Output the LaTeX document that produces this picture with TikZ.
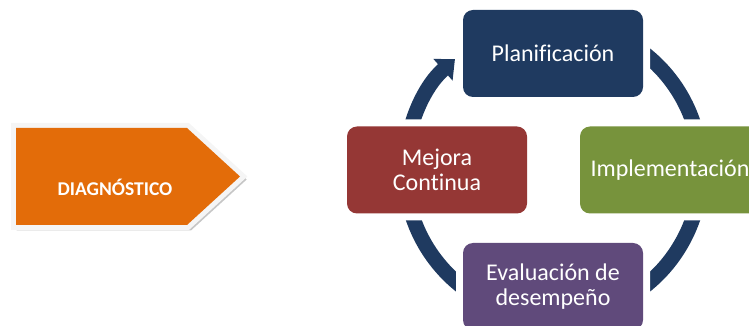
\documentclass[tikz,border=0pt]{standalone}
\usepackage{fontspec}
\setmainfont[Ligatures=NoCommon]{Carlito}
\usetikzlibrary{arrows.meta}
\definecolor{azulciclo}{HTML}{1F3A60}
\definecolor{rojomejora}{HTML}{953735}
\definecolor{verdeimpl}{HTML}{77933C}
\definecolor{moradoeval}{HTML}{604A7B}
\definecolor{naranjadiag}{HTML}{E36C09}
\tikzset{
    etapa/.style={rounded corners=10pt, minimum width=180pt, minimum height=87pt,
        inner sep=0pt, align=center, text=white, font=\fontsize{24}{25}\selectfont,
        preaction={draw=white, line width=14pt}},
    anillo/.style={draw=azulciclo, line width=15pt, -{Triangle[width=28pt,length=16pt]}},
}
\begin{document}
\begin{tikzpicture}[x=1pt, y=1pt]
        \useasboundingbox (0,0) rectangle (749,326);
        % Diagnostico arrow (left)
        \draw[draw=gray!45, fill=gray!45, line width=5pt, shift={(3,-3)}]
            (16,101) -- (187,101) -- (240,149.5) -- (187,198) -- (16,198) -- cycle;
        \draw[fill=naranjadiag, draw=none, preaction={draw=gray!8, line width=10pt}]
            (16,101) -- (187,101) -- (240,149.5) -- (187,198) -- (16,198) -- cycle;
        \node[text=white, font=\bfseries\fontsize{19.5}{21}\selectfont] (diag) at (115,139) {DIAGNÓSTICO};
        % Cycle ring
        \coordinate (ciclo) at (553,156);
        \draw[anillo] (ciclo) ++(60:148pt) arc[start angle=60, end angle=-228.5, radius=148pt];
        % Stages
        \node[etapa, fill=azulciclo] (plan) at (553,272.5) {Planificación};
        \node[etapa, fill=verdeimpl] (impl) at (670,156) {Implementación};
        \node[etapa, fill=moradoeval] (eval) at (553,39.5) {Evaluación de\\desempeño};
        \node[etapa, fill=rojomejora] (mejora) at (437,156) {Mejora\\Continua};
    \end{tikzpicture}
\end{document}
